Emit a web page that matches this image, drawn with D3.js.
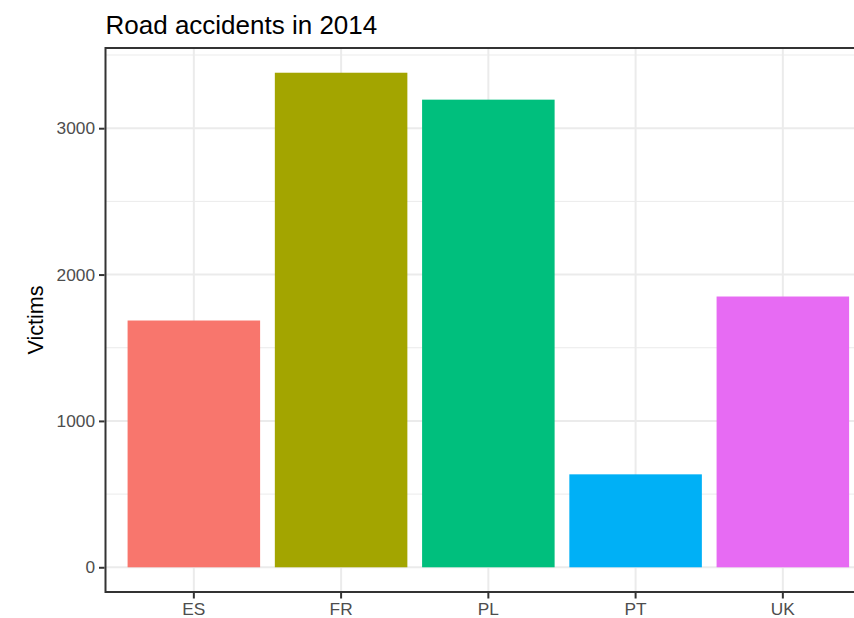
<!DOCTYPE html>
<html>
<head>
<meta charset="utf-8">
<script src="https://cdn.jsdelivr.net/npm/d3@7"></script>
<style>
  body { margin: 0; background: #fff; }
  svg { display: block; font-family: "Liberation Sans", Arial, Helvetica, sans-serif; }
</style>
</head>
<body>
<svg id="chart"></svg>
<script>
// data
let countries = ["ES", "FR", "PL", "PT", "UK"];
let victims = [1686, 3379, 3195, 635, 1850];
let barColors = ["#F8766D", "#A3A500", "#00BF7D", "#00B0F6", "#E76BF3"];
let majorTicks = [0, 1000, 2000, 3000];
let minorTicks = [500, 1500, 2500, 3500];

let width = 854, height = 618;
// panel runs off the right edge in the original
let panel = {left: 105.5, top: 48, right: 871.2, bottom: 592};

let svg = d3.select("#chart").attr("width", width).attr("height", height);

let maxVal = d3.max(victims);
let y = d3.scaleLinear()
    .domain([-0.05 * maxVal, maxVal * 1.05])
    .range([panel.bottom, panel.top]);

let x = d3.scaleBand()
    .domain(countries)
    .range([panel.left, panel.right])
    .paddingInner(0.1)
    .paddingOuter(0.15);

let grid = svg.append("g");
grid.selectAll("line.minor").data(minorTicks).enter().append("line")
    .attr("class", "minor")
    .attr("x1", panel.left).attr("x2", panel.right)
    .attr("y1", d => y(d)).attr("y2", d => y(d))
    .attr("stroke", "#EBEBEB").attr("stroke-width", 1);
grid.selectAll("line.majory").data(majorTicks).enter().append("line")
    .attr("class", "majory")
    .attr("x1", panel.left).attr("x2", panel.right)
    .attr("y1", d => y(d)).attr("y2", d => y(d))
    .attr("stroke", "#EBEBEB").attr("stroke-width", 2);
grid.selectAll("line.majorx").data(countries).enter().append("line")
    .attr("class", "majorx")
    .attr("x1", d => x(d) + x.bandwidth() / 2).attr("x2", d => x(d) + x.bandwidth() / 2)
    .attr("y1", panel.top).attr("y2", panel.bottom)
    .attr("stroke", "#EBEBEB").attr("stroke-width", 2);

svg.append("g").selectAll("rect").data(countries).enter().append("rect")
    .attr("x", d => x(d))
    .attr("width", x.bandwidth())
    .attr("y", (d, i) => y(victims[i]))
    .attr("height", (d, i) => y(0) - y(victims[i]))
    .attr("fill", (d, i) => barColors[i]);

// panel border
svg.append("rect")
    .attr("x", panel.left).attr("y", panel.top)
    .attr("width", panel.right - panel.left).attr("height", panel.bottom - panel.top)
    .attr("fill", "none").attr("stroke", "#333333").attr("stroke-width", 2);

let yAxis = d3.axisLeft(y).tickValues(majorTicks).tickSize(5.5).tickPadding(4).tickFormat(d3.format("d"));
let yg = svg.append("g").attr("transform", "translate(" + (panel.left - 1) + ",0)").call(yAxis);
yg.select(".domain").remove();
yg.selectAll(".tick line").attr("stroke", "#333333").attr("stroke-width", 2);
yg.selectAll(".tick text").attr("fill", "#4D4D4D").style("font-size", "17.3px")
    .style("font-family", "'Liberation Sans', Arial, sans-serif");

let xAxis = d3.axisBottom(x).tickSize(5.5).tickPadding(4);
let xg = svg.append("g").attr("transform", "translate(0," + (panel.bottom + 1) + ")").call(xAxis);
xg.select(".domain").remove();
xg.selectAll(".tick line").attr("stroke", "#333333").attr("stroke-width", 2);
xg.selectAll(".tick text").attr("fill", "#4D4D4D").style("font-size", "17.3px")
    .style("font-family", "'Liberation Sans', Arial, sans-serif");

svg.append("text")
    .attr("x", panel.left).attr("y", 33.5)
    .attr("fill", "#000").style("font-size", "26px")
    .text("Road accidents in 2014");

svg.append("text")
    .attr("transform", "translate(43," + ((panel.top + panel.bottom) / 2) + ") rotate(-90)")
    .attr("text-anchor", "middle")
    .attr("fill", "#000").style("font-size", "21.6px")
    .text("Victims");
</script>
</body>
</html>
